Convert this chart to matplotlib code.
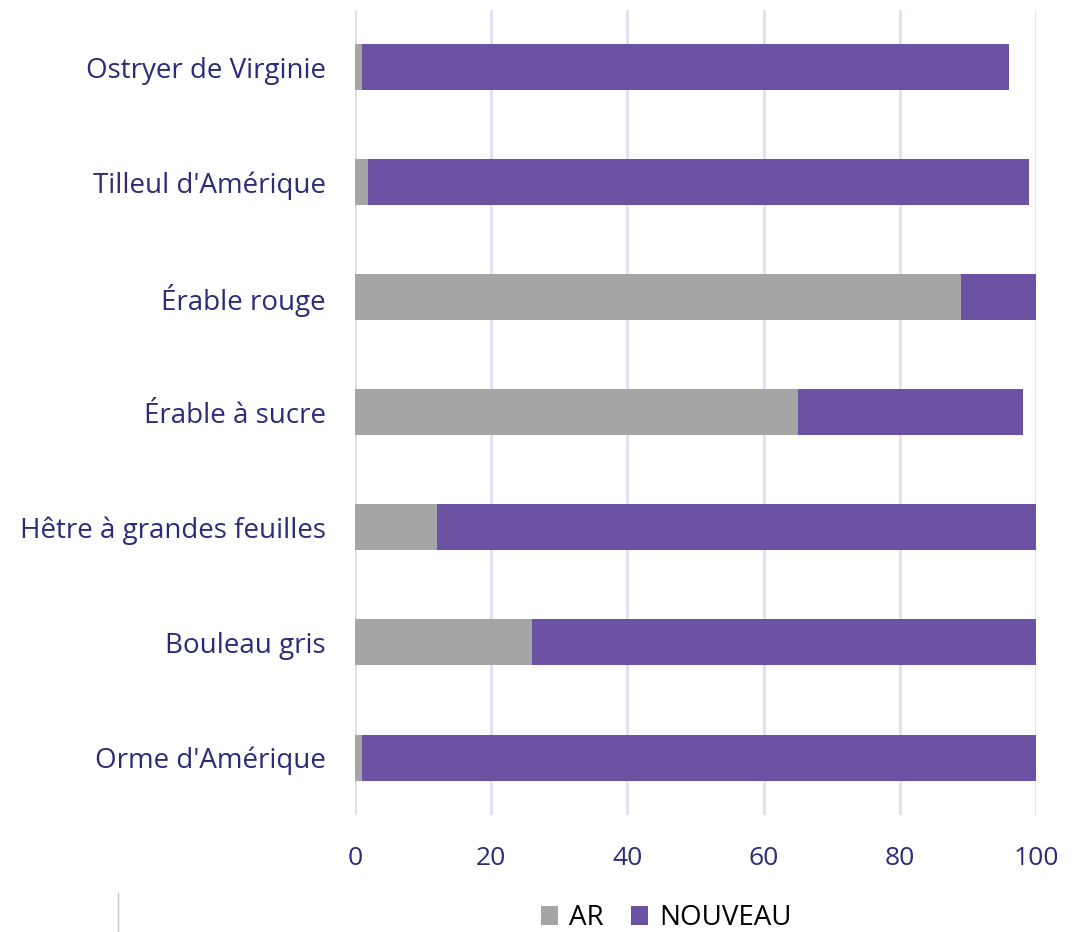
import matplotlib.pyplot as plt
import numpy as np
from matplotlib.lines import Line2D

plt.rcParams['font.family'] = ['Open Sans', 'DejaVu Sans']

especes = ["Ostryer de Virginie", "Tilleul d'Amérique", "Érable rouge",
           "Érable à sucre", "Hêtre à grandes feuilles", "Bouleau gris",
           "Orme d'Amérique"]
ar = [1, 2, 89, 65, 12, 26, 1]
nouveau = [95, 97, 11, 33, 88, 74, 99]

gris = '#a5a5a5'
violet = '#6b52a3'
texte = '#2e2a7a'

fig = plt.figure(figsize=(10.85, 9.32), dpi=100)
ax = fig.add_axes([0.327, 0.1255, 0.628, 0.864])

y = np.arange(len(especes))
ax.barh(y, ar, height=0.4, color=gris, label='AR', zorder=3)
ax.barh(y, nouveau, left=ar, height=0.4, color=violet, label='NOUVEAU', zorder=3)

ax.set_ylim(len(especes) - 0.5, -0.5)
ax.set_xlim(0, 100)
ax.set_yticks(y)
ax.set_yticklabels(especes)
ax.set_xticks(range(0, 101, 20))
ax.tick_params(axis='both', length=0, colors=texte)
ax.tick_params(axis='y', pad=21, labelsize=20)
ax.tick_params(axis='x', pad=22, labelsize=19)
ax.grid(axis='x', color='#dcdcf0', linewidth=1.8, zorder=0)
for s in ax.spines.values():
    s.set_visible(False)

leg = fig.legend(loc='lower center', ncol=2, frameon=False, fontsize=20,
                 bbox_to_anchor=(0.614, -0.027), handlelength=0.6,
                 handleheight=0.7, handletextpad=0.4, columnspacing=1.0)

fig.add_artist(Line2D([118 / 1085, 118 / 1085], [0, 39 / 932],
                      color='#c8c8c8', linewidth=1))

fig.savefig('out.png', dpi=100)
